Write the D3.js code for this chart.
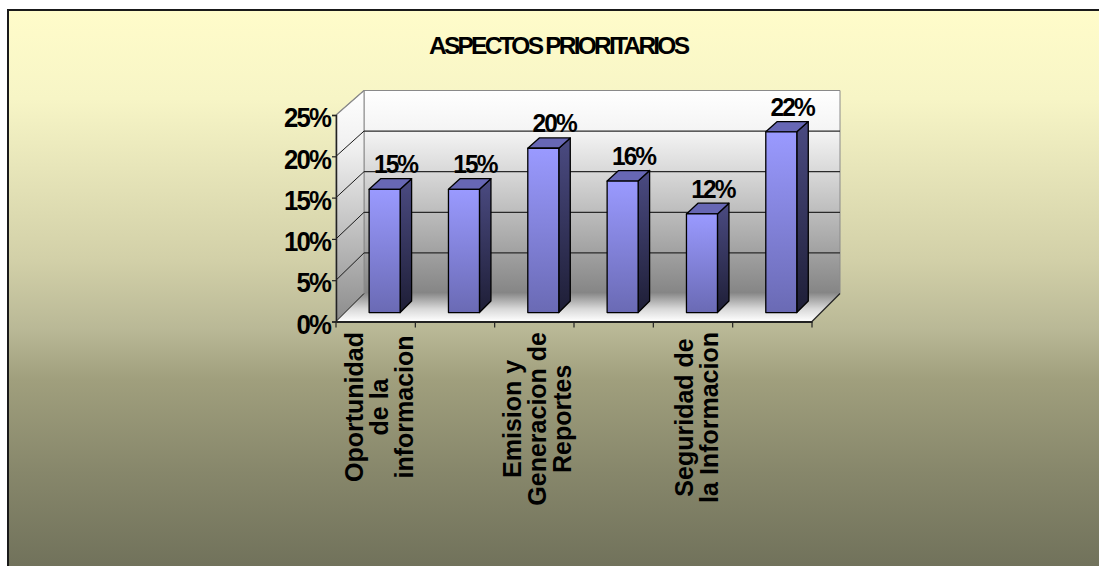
<!DOCTYPE html>
<html><head><meta charset="utf-8">
<script src="https://cdn.jsdelivr.net/npm/d3@7"></script>
<style>
html,body{margin:0;padding:0;background:#fff;}
svg{display:block;}
text{font-family:"Liberation Sans",Arial,sans-serif;font-weight:bold;fill:#000;}
</style></head>
<body>
<svg id="chart" width="1099" height="566"></svg>
<script>
// ---- data ----
const title = "ASPECTOS PRIORITARIOS";
const categories = ["Oportunidad de la informacion", "Aspecto 2", "Emision y Generacion de Reportes", "Aspecto 4", "Seguridad de la Informacion", "Aspecto 6"];
const values = [0.15, 0.15, 0.20, 0.16, 0.12, 0.22];
// wrapped label lines as drawn (Excel shows every second category label)
const labelLines = [["Oportunidad", "de la", "informacion"], null, ["Emision y", "Generacion de", "Reportes"], null, ["Seguridad de", "la Informacion"], null];
const yTicks = [0, 0.05, 0.10, 0.15, 0.20, 0.25];

(function () {
// ---- layout ----
const W = 1099, H = 566;
const svg = d3.select("#chart");
const defs = svg.append("defs");

function lin(id, stops, attrs) {
  const g = defs.append("linearGradient").attr("id", id);
  Object.entries(attrs).forEach(([k, v]) => g.attr(k, v));
  stops.forEach(([o, c]) => g.append("stop").attr("offset", o).attr("stop-color", c));
}
lin("bg", [[0, "#FFFCCA"], [0.16, "#F7F5C6"], [0.45, "#D2D0A8"], [0.575, "#B9B896"], [0.665, "#A09F7D"], [0.83, "#87876B"], [1, "#71725B"]],
  {x1: 0, y1: 10, x2: 0, y2: 566, gradientUnits: "userSpaceOnUse"});

// frame
svg.append("rect").attr("x", 0).attr("y", 0).attr("width", W).attr("height", H).attr("fill", "#fff");
svg.append("rect").attr("x", 8).attr("y", 10).attr("width", W + 20).attr("height", H + 20)
  .attr("fill", "url(#bg)").attr("stroke", "#1a1a1a").attr("stroke-width", 2);

// title
svg.append("text").attr("x", 559.5).attr("y", 54).attr("text-anchor", "middle")
  .attr("font-size", 24.5).attr("textLength", 261).attr("lengthAdjust", "spacing").text(title);

// scales
const x = d3.scaleBand().domain(categories).range([336, 812]).paddingInner(0).paddingOuter(0);
const yFront = d3.scaleLinear().domain([0, 0.25]).range([321.5, 115]);
const yBack = d3.scaleLinear().domain([0, 0.25]).range([293.5, 90.5]);
const DEPTH = 28; // horizontal shift of the back plane
const yAt = (v, d) => yFront(v) * (1 - d) + yBack(v) * d;
const xAt = (px, d) => px + DEPTH * d;

const x0 = x.range()[0], x1 = x.range()[1];
const vmax = 0.25;

lin("wall", [[0, "#FFFFFF"], [0.2, "#F4F4F4"], [1, "#858585"]], {x1: 0, y1: yBack(vmax), x2: 0, y2: yBack(0), gradientUnits: "userSpaceOnUse"});
lin("side", [[0, "#FFFFFF"], [0.25, "#F0F0F0"], [1, "#8C8C8C"]], {x1: 0, y1: yBack(vmax), x2: 0, y2: yFront(0), gradientUnits: "userSpaceOnUse"});
lin("floor", [[0, "#8A8A8A"], [0.55, "#D8D8D8"], [1, "#FFFFFF"]], {x1: 0, y1: yBack(0), x2: 0, y2: yFront(0), gradientUnits: "userSpaceOnUse"});
lin("barFront", [[0, "#9A9AFF"], [1, "#6A6AB4"]], {x1: 0, y1: 0, x2: 0, y2: 1});
lin("barSide", [[0, "#4B4B82"], [1, "#1E1E36"]], {x1: 0, y1: 0, x2: 0, y2: 1});

const line = d3.line();
const g = svg.append("g");

// back wall
g.append("path").attr("d", line([[xAt(x0, 1), yBack(0)], [xAt(x1, 1), yBack(0)], [xAt(x1, 1), yBack(vmax)], [xAt(x0, 1), yBack(vmax)]]) + "Z")
  .attr("fill", "url(#wall)").attr("stroke", "#8a8a8a").attr("stroke-width", 1);
// side wall
g.append("path").attr("d", line([[x0, yFront(0)], [xAt(x0, 1), yBack(0)], [xAt(x0, 1), yBack(vmax)], [x0, yFront(vmax)]]) + "Z")
  .attr("fill", "url(#side)").attr("stroke", "#8a8a8a").attr("stroke-width", 1);
// floor
g.append("path").attr("d", line([[x0, yFront(0)], [x1, yFront(0)], [xAt(x1, 1), yBack(0)], [xAt(x0, 1), yBack(0)]]) + "Z")
  .attr("fill", "url(#floor)").attr("stroke", "none");

// gridlines on back wall + side wall diagonals
const grid = yTicks.filter(v => v > 0 && v < vmax);
g.selectAll(".grid").data(grid).join("line")
  .attr("x1", xAt(x0, 1)).attr("x2", xAt(x1, 1))
  .attr("y1", d => yBack(d)).attr("y2", d => yBack(d))
  .attr("stroke", "#2a2a2a").attr("stroke-width", 1.2);
g.selectAll(".diag").data(yTicks.filter(v => v < vmax)).join("line")
  .attr("x1", x0).attr("y1", d => yFront(d))
  .attr("x2", xAt(x0, 1)).attr("y2", d => yBack(d))
  .attr("stroke", "#1a1a1a").attr("stroke-width", 1);
g.append("line").attr("x1", x0).attr("y1", yFront(vmax)).attr("x2", xAt(x0, 1)).attr("y2", yBack(vmax))
  .attr("stroke", "#8a8a8a").attr("stroke-width", 1.2);
// floor right edge
g.append("line").attr("x1", x1).attr("y1", yFront(0)).attr("x2", xAt(x1, 1)).attr("y2", yBack(0))
  .attr("stroke", "#222").attr("stroke-width", 1.2);

// bars
const dF = 0.32, dB = 0.73, barW = 31;
const bars = g.selectAll(".bar").data(values.map((v, i) => ({v, c: categories[i]}))).join("g");
bars.each(function(d) {
  const sel = d3.select(this);
  const cx = x(d.c) + x.bandwidth() / 2;
  const fl = xAt(cx - barW / 2, dF), fr = xAt(cx + barW / 2, dF);
  const bl = xAt(cx - barW / 2, dB), br = xAt(cx + barW / 2, dB);
  const ftop = yAt(d.v, dF), fbot = yAt(0, dF), btop = yAt(d.v, dB), bbot = yAt(0, dB);
  sel.append("path").attr("d", line([[fr, ftop], [br, btop], [br, bbot], [fr, fbot]]) + "Z")
    .attr("fill", "url(#barSide)").attr("stroke", "#000").attr("stroke-width", 1.3).attr("stroke-linejoin", "round");
  sel.append("path").attr("d", line([[fl, ftop], [fr, ftop], [br, btop], [bl, btop]]) + "Z")
    .attr("fill", "#6767B4").attr("stroke", "#000").attr("stroke-width", 1.3).attr("stroke-linejoin", "round");
  sel.append("path").attr("d", line([[fl, ftop], [fr, ftop], [fr, fbot], [fl, fbot]]) + "Z")
    .attr("fill", "url(#barFront)").attr("stroke", "#000").attr("stroke-width", 1.3).attr("stroke-linejoin", "round");
  const lx = (fl + fr) / 2 + 10, ly = ftop - 16, sx = 0.94;
  sel.append("text").attr("transform", `translate(${lx},${ly}) scale(${sx},1)`)
    .attr("x", 1).attr("text-anchor", "middle").attr("font-size", 26)
    .style("letter-spacing", "-2px")
    .text(d3.format(".0%")(d.v));
});

// y axis (front)
const yAxis = d3.axisLeft(yFront).tickValues(yTicks).tickFormat(d3.format(".0%")).tickSize(4).tickPadding(0);
const ya = svg.append("g").attr("transform", `translate(${x0},0)`).call(yAxis);
ya.select(".domain").attr("stroke", "#222").attr("stroke-width", 1.5);
ya.selectAll(".tick line").attr("stroke", "#222").attr("stroke-width", 1.2);
ya.selectAll(".tick text").attr("font-size", 28).attr("font-family", "Liberation Sans, Arial, sans-serif")
  .attr("font-weight", "bold").attr("fill", "#000").attr("dy", "0.42em")
  .attr("x", -6.5).attr("transform", "scale(0.92,1)").style("letter-spacing", "-2px");

// x axis (front floor edge)
const xAxis = d3.axisBottom(x).tickSize(0).tickFormat("");
const xa = svg.append("g").attr("transform", `translate(0,${yFront(0)})`).call(xAxis);
xa.select(".domain").attr("stroke", "#222").attr("stroke-width", 2);
xa.selectAll(".bound").data(d3.range(categories.length + 1)).join("line")
  .attr("x1", i => x0 + i * x.step()).attr("x2", i => x0 + i * x.step())
  .attr("y1", 0).attr("y2", 6).attr("stroke", "#222").attr("stroke-width", 1.2);

// category labels (rotated, wrapped, centered lines; block top-aligned under axis)
const LS = 25, FS = 25, labelTop = 332;
categories.forEach((c, i) => {
  const lines = labelLines[i];
  if (!lines) return;
  const cx = x(c) + x.bandwidth() / 2 + 3;
  const grp = svg.append("g");
  const ts = lines.map(t => grp.append("text").attr("font-size", FS).attr("text-anchor", "middle").text(t));
  const maxLen = d3.max(ts, t => t.node().getComputedTextLength());
  const cy = labelTop + maxLen / 2;
  ts.forEach((t, k) => {
    const bx = cx + (k - (lines.length - 1) / 2) * LS + 9;
    t.attr("transform", `translate(${bx},${cy}) rotate(-90)`);
  });
});
})();
</script>
</body></html>
